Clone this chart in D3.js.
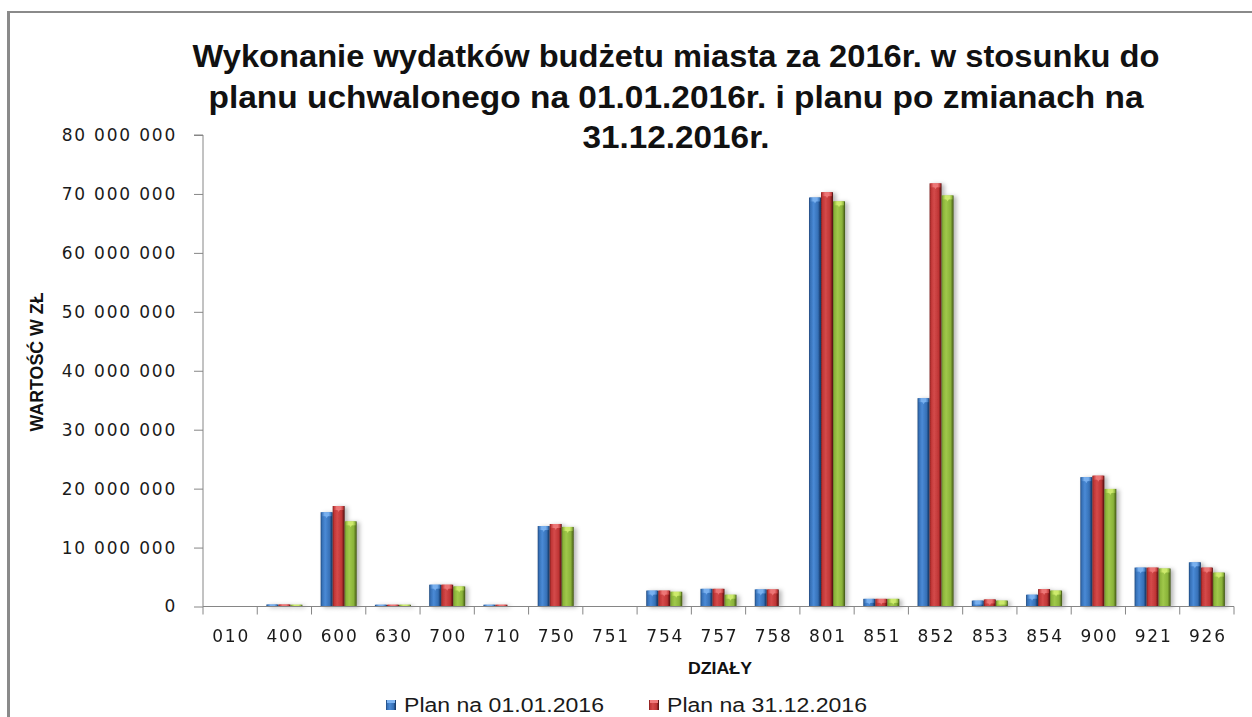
<!DOCTYPE html>
<html><head><meta charset="utf-8">
<script src="https://cdn.jsdelivr.net/npm/d3@7"></script>
<style>body{margin:0;background:#fff;} svg{display:block}</style>
</head><body>
<svg id="c" width="1252" height="717"></svg>
<script>
const categories = ["010","400","600","630","700","710","750","751","754","757","758","801","851","852","853","854","900","921","926"];
const seriesNames = ["Plan na 01.01.2016","Plan na 31.12.2016","Wykonanie na 31.12.2016"];
const planStart = [0, 340000, 16000000, 300000, 3700000, 300000, 13650000, 0, 2700000, 3000000, 2900000, 69400000, 1300000, 35350000, 1000000, 2000000, 21950000, 6600000, 7500000];
const planEnd   = [0, 340000, 17050000, 300000, 3700000, 300000, 14000000, 0, 2700000, 3000000, 2900000, 70300000, 1300000, 71800000, 1200000, 2950000, 22200000, 6600000, 6600000];
const execution = [0, 300000, 14450000, 300000, 3400000, 0, 13500000, 0, 2500000, 2000000, 0, 68750000, 1300000, 69750000, 1000000, 2700000, 19950000, 6450000, 5750000];
const yTicks = [0, 10000000, 20000000, 30000000, 40000000, 50000000, 60000000, 70000000, 80000000];
const titleLines = ["Wykonanie wydatków budżetu miasta za 2016r. w stosunku do", "planu uchwalonego na 01.01.2016r. i planu po zmianach na", "31.12.2016r."];
const yTitle = "WARTOŚĆ W ZŁ";
const xTitle = "DZIAŁY";

const seriesValues = [planStart, planEnd, execution];
const palettes = [
  {dark:"#1c4478", mid:"#3670b6", light:"#4a8ad6", cap:"#7db4f2", edge:"#163a68"},
  {dark:"#7a1c1c", mid:"#bf3535", light:"#d44a4a", cap:"#f07a7a", edge:"#4e0f0f"},
  {dark:"#5f7c22", mid:"#8ab33a", light:"#a0c84a", cap:"#d2ee70", edge:"#3d5014"}
];

const svg = d3.select("#c");
const defs = svg.append("defs");
palettes.forEach((p, i) => {
  const g = defs.append("linearGradient").attr("id", "g" + i).attr("x1", "0").attr("x2", "1").attr("y1", "0").attr("y2", "0");
  [[0, p.dark], [0.12, p.mid], [0.38, p.light], [0.75, p.mid], [0.9, p.dark], [1, p.edge]].forEach(s =>
    g.append("stop").attr("offset", s[0]).attr("stop-color", s[1]));
  const c = defs.append("linearGradient").attr("id", "cap" + i).attr("x1", "0").attr("x2", "1");
  [[0, p.mid], [0.3, p.cap], [0.7, p.cap], [1, p.mid]].forEach(s =>
    c.append("stop").attr("offset", s[0]).attr("stop-color", s[1]));
});
const f = defs.append("filter").attr("id", "sh").attr("x", "-30%").attr("y", "-5%").attr("width", "180%").attr("height", "115%");
f.append("feDropShadow").attr("dx", 3).attr("dy", 1).attr("stdDeviation", 2.2).attr("flood-color", "#000").attr("flood-opacity", 0.28);

// frame
svg.append("line").attr("x1", 8.5).attr("x2", 8.5).attr("y1", 11).attr("y2", 717).attr("stroke", "#8a8a8a").attr("stroke-width", 3);
svg.append("line").attr("x1", 7).attr("x2", 1252).attr("y1", 12).attr("y2", 12).attr("stroke", "#8a8a8a").attr("stroke-width", 2);

const L = 203, R = 1234, T = 135, B = 606.5;
const x0 = d3.scaleBand().domain(categories).range([L, R]).paddingInner(0).paddingOuter(0);
const x1 = d3.scaleBand().domain(d3.range(3)).range([0, x0.bandwidth()]).paddingInner(0).paddingOuter(0.76);
const y = d3.scaleLinear().domain([0, 80000000]).range([B, T]);

// title
const title = svg.append("text").attr("font-family", "'Liberation Sans',Arial,sans-serif").attr("font-weight", "bold")
  .attr("font-size", 32).attr("fill", "#111").attr("text-anchor", "middle");
const tw = [967, 935, 187];
const tb = [67, 108, 148];
titleLines.forEach((t, i) => title.append("tspan").attr("x", 676).attr("y", tb[i]).attr("textLength", tw[i]).attr("lengthAdjust", "spacingAndGlyphs").text(t));

// bars
const gBars = svg.append("g");
seriesValues.forEach((vals, si) => {
  const grp = gBars.append("g").attr("filter", "url(#sh)");
  categories.forEach((c, ci) => {
    const v = vals[ci];
    if (!v) return;
    const bx = x0(c) + x1(si), bw = x1.bandwidth(), by = y(v), bh = B - by;
    grp.append("rect").attr("x", bx).attr("y", by).attr("width", bw).attr("height", bh).attr("fill", "url(#g" + si + ")");
    const ch = Math.min(bh, 4);
    grp.append("rect").attr("x", bx + 1).attr("y", by).attr("width", bw - 2).attr("height", ch).attr("fill", "url(#cap" + si + ")").attr("opacity", 0.9);
    if (bh > 6) {
      grp.append("path").attr("d", `M${bx + bw * 0.35},${by + 3} L${bx + bw * 0.65},${by + 3} L${bx + bw / 2},${by + 6} Z`).attr("fill", palettes[si].cap).attr("opacity", 0.8);
    }
  });
});

// y axis
const yAxis = d3.axisLeft(y).tickValues(yTicks).tickSize(9).tickPadding(17)
  .tickFormat(d => d3.format(",")(d).replace(/,/g, " "));
const gy = svg.append("g").attr("transform", `translate(${L},0)`).call(yAxis);
gy.select(".domain").attr("stroke", "#868686").attr("d", `M-9,${T}H0V${B}`);
gy.selectAll(".tick line").attr("stroke", "#868686");
gy.selectAll("text").attr("font-family", "'DejaVu Sans',sans-serif").attr("font-size", 17).attr("letter-spacing", "1.8px").attr("fill", "#1a1a1a");

// x axis
svg.append("line").attr("x1", L).attr("x2", R).attr("y1", B).attr("y2", B).attr("stroke", "#868686");
const bounds = categories.map(c => x0(c)).concat([R]);
svg.append("g").selectAll("line").data(bounds).join("line")
  .attr("x1", d => d).attr("x2", d => d).attr("y1", B).attr("y2", B + 8).attr("stroke", "#868686");
svg.append("g").selectAll("text").data(categories).join("text")
  .attr("x", d => x0(d) + x0.bandwidth() / 2 + 1).attr("y", 642)
  .attr("text-anchor", "middle").attr("font-family", "'DejaVu Sans',sans-serif").attr("font-size", 17)
  .attr("letter-spacing", "1.8px").attr("fill", "#1a1a1a").text(d => d);

// axis titles
svg.append("text").attr("transform", "translate(43,362) rotate(-90)").attr("text-anchor", "middle")
  .attr("font-family", "'Liberation Sans',Arial,sans-serif").attr("font-weight", "bold").attr("font-size", 18)
  .attr("textLength", 139).attr("lengthAdjust", "spacingAndGlyphs").attr("fill", "#111").text(yTitle);
svg.append("text").attr("x", 720).attr("y", 674).attr("text-anchor", "middle")
  .attr("font-family", "'Liberation Sans',Arial,sans-serif").attr("font-weight", "bold").attr("font-size", 17)
  .attr("textLength", 64).attr("lengthAdjust", "spacingAndGlyphs").attr("fill", "#111").text(xTitle);

// legend (only first two entries visible in the frame)
const legX = [386, 649];
const leg = svg.append("g");
seriesNames.slice(0, 2).forEach((s, i) => {
  const g = leg.append("g").attr("transform", `translate(${legX[i]},700)`);
  g.append("rect").attr("x", 0).attr("y", 0).attr("width", 10).attr("height", 10).attr("fill", "url(#g" + i + ")");
  g.append("rect").attr("x", 1).attr("y", 0).attr("width", 8).attr("height", 3).attr("fill", palettes[i].cap);
  g.append("text").attr("x", 18).attr("y", 12).attr("font-family", "'Liberation Sans',Arial,sans-serif")
    .attr("font-size", 20).attr("fill", "#1a1a1a").attr("textLength", 200).attr("lengthAdjust", "spacingAndGlyphs").text(s);
});
</script>
</body></html>
